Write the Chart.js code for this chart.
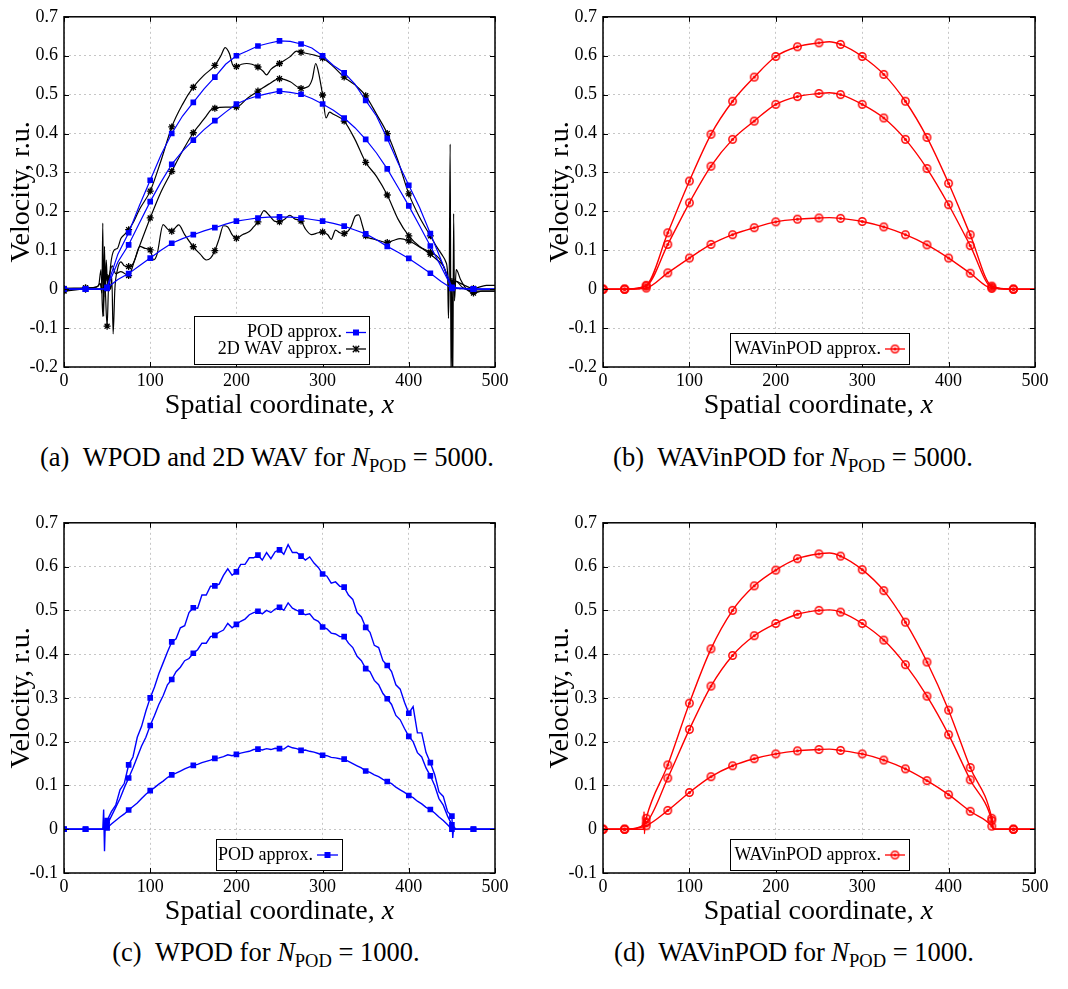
<!DOCTYPE html>
<html><head><meta charset="utf-8">
<script src="https://cdn.jsdelivr.net/npm/chart.js@4.4.1/dist/chart.umd.min.js"></script>
<style>
html,body{margin:0;padding:0;background:#fff;}
body{width:1068px;height:989px;position:relative;overflow:hidden;font-family:"Liberation Serif","Times New Roman",serif;color:#000;}
canvas{position:absolute;}
.cap{position:absolute;width:534px;text-align:center;font-size:26.5px;line-height:26.5px;white-space:nowrap;}
.cap sub{font-size:0.7em;vertical-align:-0.3em;line-height:0;}
.xt{position:absolute;width:431px;text-align:center;font-size:28px;line-height:28px;white-space:nowrap;}
</style></head><body>
<canvas id="ca" width="534" height="430" style="left:0;top:0"></canvas>
<canvas id="cb" width="534" height="430" style="left:534px;top:0"></canvas>
<canvas id="cc" width="534" height="430" style="left:0;top:506px"></canvas>
<canvas id="cd" width="534" height="430" style="left:534px;top:506px"></canvas>
<div class="xt" style="left:64px;top:390px">Spatial coordinate, <i>x</i></div>
<div class="xt" style="left:603px;top:390px">Spatial coordinate, <i>x</i></div>
<div class="xt" style="left:64px;top:896px">Spatial coordinate, <i>x</i></div>
<div class="xt" style="left:603px;top:896px">Spatial coordinate, <i>x</i></div>
<div class="cap" style="left:0;top:444px">(a)&ensp;WPOD and 2D WAV for <i>N</i><sub>POD</sub> = 5000.</div>
<div class="cap" style="left:526px;top:444px">(b)&ensp;WAVinPOD for <i>N</i><sub>POD</sub> = 5000.</div>
<div class="cap" style="left:-1px;top:939px">(c)&ensp;WPOD for <i>N</i><sub>POD</sub> = 1000.</div>
<div class="cap" style="left:527px;top:939px">(d)&ensp;WAVinPOD for <i>N</i><sub>POD</sub> = 1000.</div>
<script>
// ---------------- DATA ----------------
const xTicksVals = [0,100,200,300,400,500];
const yTickStep = 0.1;

// (a) POD approximation, N_POD = 5000
const xA_pod = [0,25,45,50,55,62.5,75,87.5,100,112.5,125,137.5,150,162.5,175,187.5,200,212.5,225,237.5,250,262.5,275,287.5,300,312.5,325,337.5,350,362.5,375,387.5,400,412.5,425,437.5,450,475,500];
const yA_podTop = [0,0,0,0.005,0.04,0.09,0.145,0.215,0.28,0.345,0.40,0.445,0.48,0.515,0.545,0.578,0.60,0.612,0.625,0.632,0.638,0.637,0.63,0.62,0.60,0.575,0.556,0.527,0.485,0.445,0.387,0.325,0.267,0.21,0.143,0.075,0.005,0,0];
const yA_podMid = [0,0,0,0.003,0.03,0.07,0.114,0.17,0.225,0.275,0.321,0.355,0.383,0.41,0.433,0.455,0.476,0.488,0.497,0.503,0.509,0.506,0.501,0.49,0.476,0.46,0.44,0.415,0.385,0.35,0.309,0.262,0.214,0.163,0.111,0.058,0.003,0,0];
const yA_podLow = [0,0,0,0.002,0.012,0.025,0.04,0.06,0.08,0.1,0.118,0.13,0.14,0.15,0.158,0.167,0.175,0.179,0.183,0.185,0.186,0.185,0.183,0.179,0.175,0.169,0.162,0.152,0.142,0.127,0.11,0.095,0.079,0.06,0.041,0.02,0.002,0,0];

// (a) 2D WAV approximation
const xA_wavTop = [0,25,38,42,44,45,46,47,48,49,50,52,54,58,62,66,70,75,80,87.5,100,112.5,125,137.5,150,162.5,175,182,187,192,196,200,206,212,218,225,231,235,240,250,262,270,275,287.5,300,312.5,325,337.5,350,362.5,375,387.5,400,412.5,425,432,438,443,445,446,447,448,449,450,451,452,453,455,460,467,475,485,500];
const yA_wavTop = [-0.003,0.003,0.005,0.015,-0.01,0.17,-0.07,0.11,-0.02,0.075,0.03,0.0,0.06,0.1,0.105,0.13,0.14,0.153,0.17,0.205,0.252,0.33,0.417,0.475,0.519,0.55,0.575,0.60,0.621,0.605,0.575,0.572,0.578,0.58,0.578,0.571,0.56,0.551,0.565,0.58,0.597,0.612,0.609,0.603,0.594,0.572,0.545,0.525,0.497,0.45,0.40,0.33,0.245,0.185,0.137,0.11,0.09,0.07,0.04,-0.075,0.05,0.373,-0.25,0.02,-0.25,0.194,-0.03,0.05,0.025,0.0,-0.01,-0.005,-0.005];
const xA_wavMid = [0,25,40,43,45,47,50,52,54,55.5,57,59,62,66,70,75,80,87.5,100,112.5,125,137.5,150,158,165,170,175,187.5,200,212.5,225,237.5,250,262.5,275,283,288,292,295,300,304,308,312,325,337.5,350,362.5,375,387.5,400,412.5,425,435,442,447,450,455,460,475,490,500];
const yA_wavMid = [0.002,0.003,0.008,0.05,-0.07,0.03,-0.095,0.02,0.0,0.03,-0.115,0.0,0.05,0.07,0.06,0.058,0.065,0.11,0.183,0.25,0.303,0.355,0.402,0.425,0.445,0.46,0.465,0.468,0.468,0.49,0.509,0.527,0.541,0.533,0.516,0.52,0.54,0.58,0.56,0.499,0.44,0.455,0.45,0.432,0.385,0.326,0.29,0.242,0.18,0.137,0.11,0.095,0.08,0.05,0.02,0.01,0.02,0.015,0.002,0.01,0.01];
const xA_wavLow = [0,25,40,48,50,52,56,60,66,75,82,88,94,100,104,108,115,120,125,130,133,140,150,158,165,170,175,180,185,190,195,200,207,215,220,225,232,238,244,250,256,262,268,275,280,287,295,300,306,310,315,320,325,333,338,342,346,350,357,365,375,382,390,400,408,415,425,433,440,445,450,455,462,475,500];
const yA_wavLow = [-0.005,0.0,0.0,0.005,0.005,0.03,0.06,0.04,0.045,0.035,0.075,0.11,0.105,0.101,0.075,0.09,0.166,0.155,0.149,0.16,0.165,0.14,0.109,0.09,0.075,0.08,0.099,0.13,0.163,0.16,0.14,0.131,0.14,0.148,0.16,0.173,0.202,0.19,0.175,0.173,0.18,0.19,0.18,0.175,0.155,0.14,0.145,0.147,0.14,0.128,0.152,0.145,0.143,0.16,0.188,0.191,0.165,0.137,0.13,0.125,0.12,0.125,0.13,0.124,0.115,0.105,0.09,0.075,0.06,0.03,0.01,0.02,0.005,-0.005,-0.005];

// (b) WAVinPOD, N_POD = 5000
const xB = [0,25,50,75,100,125,150,175,200,225,250,262,275,300,325,350,375,400,425,450,475,500];
const yB_top = [0,0,0.01,0.145,0.278,0.398,0.483,0.545,0.598,0.623,0.633,0.636,0.629,0.598,0.552,0.483,0.39,0.272,0.14,0.008,0,0];
const yB_mid = [0,0,0.008,0.115,0.222,0.316,0.385,0.432,0.475,0.495,0.503,0.505,0.50,0.475,0.44,0.385,0.31,0.217,0.112,0.005,0,0];
const yB_low = [0,0,0.003,0.042,0.08,0.115,0.14,0.158,0.173,0.18,0.183,0.184,0.182,0.174,0.16,0.14,0.114,0.08,0.041,0.002,0,0];

// (c) POD approximation, N_POD = 1000
const xC = [0,25,45,46,47,48,50,55,60,65,70,75,80,85,90,95,100,105,110,115,120,125,130,135,140,145,150,155,160,165,170,175,180,185,190,195,200,205,210,215,220,225,230,235,240,245,250,255,260,265,270,275,280,285,290,295,300,305,310,315,320,325,330,335,340,345,350,355,360,365,370,375,380,385,390,395,400,405,410,415,420,425,430,435,440,445,450,451,452,455,475,500];
const yC_top = [0,0,0,0.045,-0.05,0.02,
 0.02,0.04,0.055,0.09,0.105,0.147,0.165,0.21,0.235,0.27,
 0.30,0.325,0.355,0.38,0.405,0.428,0.435,0.46,0.465,0.495,
 0.506,0.505,0.535,0.535,0.555,0.556,0.56,0.58,0.595,0.58,
 0.588,0.605,0.605,0.62,0.62,0.626,0.615,0.632,0.618,0.634,
 0.638,0.628,0.65,0.632,0.632,0.624,0.615,0.622,0.608,0.598,
 0.583,0.578,0.562,0.565,0.555,0.553,0.535,0.525,0.495,0.485,
 0.461,0.45,0.42,0.415,0.385,0.374,0.36,0.33,0.32,0.29,
 0.265,0.28,0.22,0.22,0.175,0.152,0.125,0.085,0.075,0.04,
 0.03,
 -0.02,0.005,0,0,0];
const yC_mid = [0,0,0,0.005,0,0.005,
 0.01,0.03,0.05,0.07,0.095,0.117,0.14,0.165,0.19,0.21,
 0.237,0.26,0.285,0.305,0.33,0.342,0.36,0.37,0.385,0.39,
 0.402,0.41,0.425,0.425,0.44,0.443,0.45,0.455,0.47,0.46,
 0.468,0.475,0.48,0.49,0.495,0.498,0.492,0.5,0.495,0.503,
 0.507,0.5,0.517,0.505,0.5,0.496,0.49,0.492,0.48,0.475,
 0.462,0.458,0.448,0.446,0.44,0.44,0.425,0.415,0.395,0.385,
 0.367,0.36,0.34,0.33,0.31,0.298,0.285,0.26,0.25,0.23,
 0.212,0.2,0.175,0.165,0.14,0.122,0.1,0.07,0.055,0.03,
 0.01,
 0,0,0,0,0];
const yC_low = [0,0,0,0,0,0,
 0.003,0.012,0.02,0.028,0.035,0.044,0.052,0.06,0.07,0.08,
 0.088,0.095,0.103,0.11,0.118,0.124,0.128,0.133,0.138,0.142,
 0.146,0.148,0.152,0.155,0.158,0.162,0.163,0.166,0.17,0.168,
 0.171,0.174,0.176,0.178,0.182,0.183,0.181,0.184,0.182,0.185,
 0.184,0.183,0.19,0.186,0.184,0.18,0.181,0.178,0.176,0.173,
 0.169,0.168,0.164,0.163,0.161,0.16,0.155,0.15,0.145,0.14,
 0.133,0.13,0.124,0.12,0.114,0.109,0.104,0.096,0.09,0.084,
 0.077,0.072,0.064,0.058,0.05,0.045,0.037,0.028,0.02,0.01,
 0.0,
 0,0,0,0,0];

// (d) WAVinPOD, N_POD = 1000
const xD_top = [0,25,45,47,47.5,48,48.5,50,75,100,125,150,175,200,225,250,262,275,300,325,350,375,400,425,450,452,475,500];
const yD_top = [0,0,0,0,0.04,-0.01,0.01,0.025,0.147,0.288,0.412,0.5,0.556,0.592,0.618,0.629,0.631,0.624,0.593,0.545,0.473,0.382,0.272,0.141,0.025,0,0,0];
const xD = [0,25,50,75,100,125,150,175,200,225,250,262,275,300,325,350,375,400,425,450,452,475,500];
const yD_mid = [0,0,0.015,0.117,0.228,0.327,0.397,0.442,0.47,0.491,0.5,0.501,0.496,0.47,0.432,0.376,0.304,0.216,0.113,0.02,0,0,0];
const yD_low = [0,0,0.008,0.043,0.084,0.12,0.145,0.161,0.172,0.179,0.182,0.183,0.18,0.172,0.158,0.138,0.111,0.079,0.041,0.007,0,0,0];

const legendA = ['POD approx.', '2D WAV approx.'];
const legendB = ['WAVinPOD approx.'];
const legendC = ['POD approx.'];

// ---------------- STYLE / BUILD ----------------
const FAM = 'Liberation Serif';
Chart.defaults.font.family = FAM;
Chart.defaults.color = '#000';
const BLUE = '#0000ff', BLACK = '#000000', RED = '#ff0000';
function pts(xs, ys){ return xs.map((x,i)=>({x:x, y:ys[i]})); }
function markR(r){ return ctx => { const p = ctx.raw; return (p && p.x % 25 === 0 && p.x < 500) ? r : 0; }; }

function ringDot(){
  const c = document.createElement('canvas'); c.width = 11; c.height = 11;
  const g = c.getContext('2d');
  g.strokeStyle = RED; g.lineWidth = 1.5;
  g.beginPath(); g.arc(5.5,5.5,3.7,0,Math.PI*2); g.stroke();
  g.fillStyle = RED; g.beginPath(); g.arc(5.5,5.5,1.6,0,Math.PI*2); g.fill();
  return c;
}
const RING = ringDot();

function podSet(xs, ys, w){ return {data:pts(xs,ys), borderColor:BLUE, backgroundColor:BLUE, borderWidth:w||1.2, tension:0,
  pointStyle:'rect', pointRadius:markR(4), pointBorderWidth:0, pointBackgroundColor:BLUE}; }
function wavSet(xs, ys){ return {data:pts(xs,ys), borderColor:BLACK, backgroundColor:BLACK, borderWidth:1.2, cubicInterpolationMode:'monotone',
  pointStyle:'star', pointRadius:markR(3.5), pointBorderWidth:1.3, pointBorderColor:BLACK}; }
function redSet(xs, ys){ return {data:pts(xs,ys), borderColor:RED, backgroundColor:RED, borderWidth:1.4, cubicInterpolationMode:'monotone',
  pointStyle:RING, pointRadius:markR(4)}; }

const legends = {
  ca: {box:[194,316,369,364], tx:342, s1:346, s2:366, rows:[{t:legendA[0], y:332.5, c:BLUE, m:'sq'},{t:legendA[1], y:349, c:BLACK, m:'star'}]},
  cb: {box:[196,333,375,364], tx:347, s1:351, s2:371, rows:[{t:legendB[0], y:349, c:RED, m:'ring'}]},
  cc: {box:[216,333,342,364], tx:313, s1:317, s2:338, rows:[{t:legendC[0], y:349, c:BLUE, m:'sq'}]},
  cd: {box:[196,333,375,364], tx:347, s1:351, s2:371, rows:[{t:legendB[0], y:349, c:RED, m:'ring'}]}
};

const framePlugin = {
  id:'frameLegend',
  afterDraw(chart){
    const ctx = chart.ctx, a = chart.chartArea;
    const xs = chart.scales.x, ys = chart.scales.y;
    ctx.save();
    ctx.strokeStyle = '#000'; ctx.lineWidth = 1;
    ctx.beginPath();
    xs.ticks.forEach(t => { const p = Math.round(xs.getPixelForValue(t.value))+0.5;
      ctx.moveTo(p, a.bottom); ctx.lineTo(p, a.bottom-5); ctx.moveTo(p, a.top); ctx.lineTo(p, a.top+5); });
    ys.ticks.forEach(t => { const p = Math.round(ys.getPixelForValue(t.value))+0.5;
      ctx.moveTo(a.left, p); ctx.lineTo(a.left+5, p); ctx.moveTo(a.right, p); ctx.lineTo(a.right-5, p); });
    ctx.stroke();
    ctx.lineWidth = 1.5;
    ctx.strokeRect(a.left, a.top, a.right-a.left, a.bottom-a.top);
    const L = legends[chart.canvas.id];
    if (L) {
      const [x1,y1,x2,y2] = L.box;
      ctx.fillStyle = '#fff'; ctx.fillRect(x1,y1,x2-x1,y2-y1);
      ctx.lineWidth = 1; ctx.strokeStyle = '#000'; ctx.strokeRect(x1+0.5,y1+0.5,x2-x1,y2-y1);
      ctx.font = '18px ' + FAM; ctx.textAlign = 'right'; ctx.textBaseline = 'middle';
      L.rows.forEach(r => {
        ctx.fillStyle = '#000'; ctx.fillText(r.t, L.tx, r.y);
        ctx.strokeStyle = r.c; ctx.lineWidth = 1.3;
        ctx.beginPath(); ctx.moveTo(L.s1, r.y); ctx.lineTo(L.s2, r.y); ctx.stroke();
        const m = (L.s1+L.s2)/2;
        if (r.m === 'sq') { ctx.fillStyle = r.c; ctx.fillRect(m-3, r.y-3, 6, 6); }
        else if (r.m === 'ring') { ctx.drawImage(RING, m-5.5, r.y-5.5); }
        else { ctx.beginPath(); const d=3.2;
          ctx.moveTo(m-d,r.y-d); ctx.lineTo(m+d,r.y+d); ctx.moveTo(m-d,r.y+d); ctx.lineTo(m+d,r.y-d);
          ctx.moveTo(m,r.y-d); ctx.lineTo(m,r.y+d); ctx.stroke(); }
      });
    }
    ctx.restore();
  }
};

function fmtY(v){ const r = Math.round(v*10)/10; return r === 0 ? '0' : String(r); }

function makeChart(id, datasets, yMin, leftW, padTop, padRight, titlePad){
  const tickFont = {family:FAM, size:18, style:'normal', weight:'normal'};
  const grid = {color:'#c6c6c6', lineWidth:1, drawTicks:false};
  return new Chart(document.getElementById(id), {
    type:'line',
    data:{datasets:datasets},
    options:{
      responsive:false, animation:false, devicePixelRatio:1,
      font:{family:FAM},
      layout:{padding:{left:0, top:padTop, right:padRight, bottom:0}},
      plugins:{legend:{display:false}, tooltip:{enabled:false}},
      scales:{
        x:{type:'linear', min:0, max:500,
           ticks:{stepSize:100, font:tickFont, color:'#000', padding:3, maxRotation:0, callback:v=>String(v)},
           grid:grid, border:{display:false, dash:[2,3]},
           afterFit:s=>{ s.height = 63; }},
        y:{type:'linear', min:yMin, max:0.7,
           ticks:{stepSize:yTickStep, font:tickFont, color:'#000', padding:6, callback:v=>fmtY(v)},
           grid:grid, border:{display:false, dash:[2,3]},
           title:{display:true, text:'Velocity, r.u.', font:{family:FAM, size:28, style:'normal', weight:'normal'}, color:'#000', padding:{top:titlePad, bottom:0}},
           afterFit:s=>{ s.width = leftW; }}
      }
    },
    plugins:[framePlugin]
  });
}

makeChart('ca', [
  podSet(xA_pod, yA_podTop), podSet(xA_pod, yA_podMid), podSet(xA_pod, yA_podLow),
  wavSet(xA_wavTop, yA_wavTop), wavSet(xA_wavMid, yA_wavMid), wavSet(xA_wavLow, yA_wavLow)
], -0.2, 64, 11, 39, 5);

makeChart('cb', [
  redSet(xB, yB_top), redSet(xB, yB_mid), redSet(xB, yB_low)
], -0.2, 69, 11, 33, 10);

makeChart('cc', [
  podSet(xC, yC_top, 1.4), podSet(xC, yC_mid, 1.4), podSet(xC, yC_low, 1.4)
], -0.1, 64, 12, 39, 5);

makeChart('cd', [
  redSet(xD_top, yD_top), redSet(xD, yD_mid), redSet(xD, yD_low)
], -0.1, 69, 12, 33, 10);
</script>
</body></html>
